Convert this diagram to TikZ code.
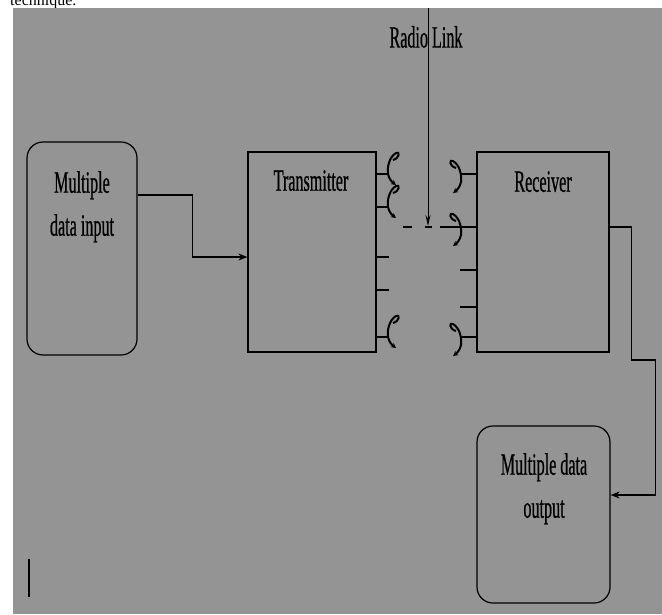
\documentclass[tikz,border=0pt]{standalone}
\usepackage{fontspec}
\setmainfont{Liberation Serif}[FakeStretch=0.52,FakeBold=0.6]
\newfontfamily\plainserif{Liberation Serif}
\usetikzlibrary{arrows.meta,calc}
\definecolor{panel}{RGB}{148,148,148}
\tikzset{
  blockbox/.style={draw, line width=1.2pt, inner sep=0pt},
  roundbox/.style={blockbox, rounded corners=16pt},
  txt/.style={font=\fontsize{31}{43}\selectfont, align=center, inner sep=0pt},
  conn/.style={line width=1.2pt},
  tip/.style={-{Stealth[length=9pt,width=7pt]}},
  antline/.style={line width=2pt, -{Stealth[length=5pt,width=5pt]}},
  txant/.pic={\draw[antline] (5,-14) .. controls (12,-16) and (12,-23) .. (8,-21)
     .. controls (1,-17) and (-1,-6) .. (0,0) .. controls (1,5) and (4,8) .. (8,11);},
}
\begin{document}
\begin{tikzpicture}[x=1pt,y=-1pt]
\useasboundingbox (0,0) rectangle (662,614);
\fill[white] (0,0) rectangle (662,614);
\node[anchor=base west, inner sep=0pt, font=\plainserif\fontsize{16}{16}\selectfont] (cut) at (10,5) {technique.};
\fill[panel] (13,8) rectangle (662,614);
% blocks
\node[roundbox, minimum width=110pt, minimum height=213pt] (in) at (82,248.5) {};
\node[blockbox, minimum width=128pt, minimum height=200pt] (tx) at (312,252) {};
\node[blockbox, minimum width=132pt, minimum height=200pt] (rx) at (543,252) {};
\node[roundbox, minimum width=133pt, minimum height=177pt] (out) at (543.5,514.5) {};
\node[txt, anchor=north] (intxt) at (82,171) {Multiple\\data input};
\node[txt, anchor=north] (txtxt) at (311,170) {Transmitter};
\node[txt, anchor=north] (rxtxt) at (543,171) {Receiver};
\node[txt, anchor=north] (outtxt) at (544,453) {Multiple data\\output};
% antennas
\foreach \y in {174,207,257,290,337}
  \draw[conn] (tx.east |- 0,\y) -- ++(12,0);
\foreach \y in {174,207,337}
  \pic at (388,\y) {txant};
\foreach \y in {174,227,270,307,337}
  \draw[conn] (rx.west |- 0,\y) -- ++(-16,0);
\foreach \y in {174,227,337}
  \pic[xscale=-1, yshift=-8pt] at (461,\y) {txant};
% radio link
\node[txt] (radio) at (426,37) {Radio Link};
\coordinate (linktop) at (428,8);
\coordinate (linkend) at (428,226);
\draw[line width=1pt, -{Stealth[length=11pt,width=5pt]}] (linktop) -- (linkend);
\draw[conn, dash pattern=on 9pt off 13pt on 7pt off 8pt on 30pt] (403,227) -- (rx.west |- 0,227);
% connectors
\draw[conn, tip] ([yshift=53.5pt]in.east) -- ++(55,0) |- ([yshift=-5pt]tx.west);
\draw[conn, tip] ([yshift=25pt]rx.east) -- ++(22,0) -- ++(0,133) -- ++(24,0) |- ([yshift=19.5pt]out.east);
% mark
\coordinate (bartop) at (29,559);
\coordinate (barend) at (29,597);
\draw[line width=2.5pt] (bartop) -- (barend);
\end{tikzpicture}
\end{document}
